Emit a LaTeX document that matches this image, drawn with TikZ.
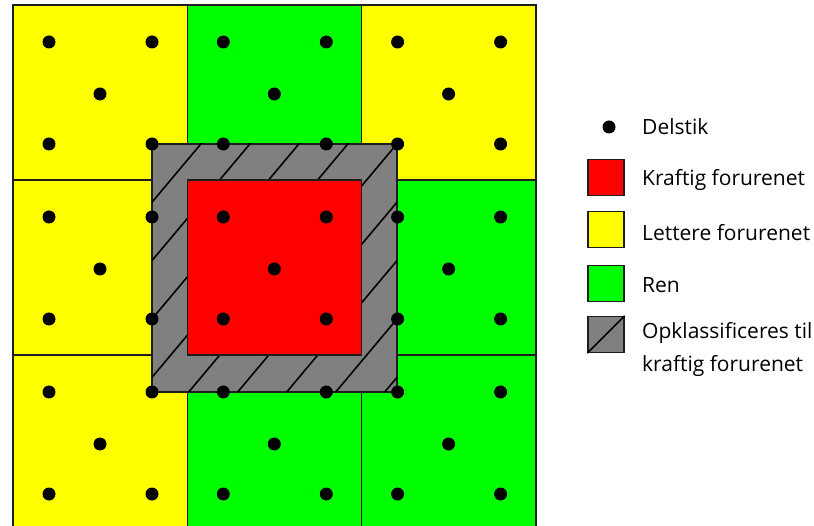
\documentclass[tikz,border=0pt]{standalone}
\usepackage{fontspec}
\setmainfont{Open Sans}
\definecolor{yel}{RGB}{255,255,0}
\definecolor{grn}{RGB}{0,255,0}
\definecolor{rd}{RGB}{255,0,0}
\definecolor{gry}{RGB}{128,128,128}
\definecolor{edge}{RGB}{30,30,30}
\begin{document}
\begin{tikzpicture}[x=1pt,y=-1pt,
  cellfill/.style={draw=edge, line width=1.3pt},
  dot/.style={circle, fill=black, inner sep=0pt, minimum size=13pt},
  legbox/.style={draw=edge, line width=1.3pt, minimum width=36pt, minimum height=36pt, inner sep=0pt},
  legtext/.style={anchor=west, inner sep=0pt, align=left, font=\fontsize{21}{33}\selectfont},
  hatch/.style={draw=black, line width=1.6pt}]
\useasboundingbox (0,0) rectangle (814,526);
\fill[white] (0,0) rectangle (814,526);
\begin{scope}
\clip (0,0) rectangle (814,526);
% cells
\foreach \c/\r/\col in {0/0/yel,1/0/grn,2/0/yel,0/1/yel,1/1/rd,2/1/grn,0/2/yel,1/2/grn,2/2/grn}{
  \path[cellfill, fill=\col] ({13+174.3*\c},{5+175*\r}) rectangle ++(174.3,175);
}
% upgraded zone
\path[fill=gry, draw=edge, line width=1.3pt] (152,144) rectangle (397,392);
\begin{scope}
\clip (152,144) rectangle (397,392);
\foreach \k in {-6,...,10}{
  \draw[hatch] ({200+49*\k+300},{145-357.5}) -- ({200+49*\k-300},{145+357.5});
}
\end{scope}
% heavily polluted cell
\path[fill=rd, draw=edge, line width=1.3pt] (187.3,180) rectangle (361.6,355);
% dots
\foreach \c in {0,1,2}{
  \foreach \r in {0,1,2}{
    \pgfmathsetmacro{\cx}{13+174.3*\c}
    \pgfmathsetmacro{\cy}{5+175*\r}
    \node[dot] (d-\c-\r-a) at ({\cx+36},{\cy+37}) {};
    \node[dot] (d-\c-\r-b) at ({\cx+139},{\cy+37}) {};
    \node[dot] (d-\c-\r-c) at ({\cx+87},{\cy+89}) {};
    \node[dot] (d-\c-\r-d) at ({\cx+36},{\cy+139}) {};
    \node[dot] (d-\c-\r-e) at ({\cx+139},{\cy+139}) {};
  }
}
\end{scope}
% legend
\node[dot, minimum size=13pt] (legdot) at (609,127) {};
\node[legtext] (t1) at (642,127) {Delstik};
\node[legbox, fill=rd] (b2) at (606,177.5) {};
\node[legtext] (t2) at (642,180) {Kraftig forurenet};
\node[legbox, fill=yel] (b3) at (606,229.5) {};
\node[legtext] (t3) at (642,233) {Lettere forurenet};
\node[legbox, fill=grn] (b4) at (606,283.5) {};
\node[legtext] (t4) at (642,285) {Ren};
\node[legbox, fill=gry] (b5) at (606,334.5) {};
\draw[hatch] (b5.south west) -- (b5.north east);
\node[legtext] (t5) at (642,349) {Opklassificeres til\\kraftig forurenet};
\end{tikzpicture}
\end{document}
